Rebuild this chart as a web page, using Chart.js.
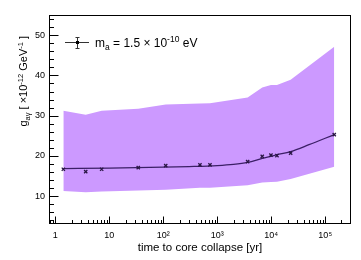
<!DOCTYPE html>
<html><head><meta charset="utf-8">
<script src="https://cdn.jsdelivr.net/npm/chart.js@4"></script>
<style>html,body{margin:0;padding:0;background:#fff}canvas{display:block}</style>
</head><body>
<canvas id="c" width="361" height="260"></canvas>
<script>
// ---- data ----
const times      = [1.41, 3.66, 7.23, 34.4, 111, 478, 733, 3655, 6810, 9870, 12760, 22860, 146800];
const gValues    = [16.7, 16.1, 16.7, 17.1, 17.6, 17.8, 17.8, 18.6, 19.9, 20.2, 20.1, 20.7, 25.3];
const bandUpper  = [31.2, 30.2, 31.2, 31.7, 32.8, 33.0, 33.1, 34.5, 37.0, 37.6, 37.6, 38.9, 47.1];
const bandLower  = [11.3, 11.0, 11.2, 11.4, 11.6, 12.1, 12.1, 12.7, 13.4, 13.5, 13.6, 14.3, 17.3];
const fitTimes   = [1.41, 10, 100, 300, 1000, 2000, 3655, 6810, 12760, 22860, 50000, 146800];
const fitValues  = [16.85, 17.0, 17.2, 17.35, 17.6, 17.9, 18.4, 19.4, 20.3, 21.1, 22.8, 25.3];
const yMajorTicks = [10, 20, 30, 40, 50];
const yMinorTicks = [4, 6, 8, 12, 14, 16, 18, 22, 24, 26, 28, 32, 34, 36, 38, 42, 44, 46, 48, 52, 54];
const xMajorTicks = [1, 10, 100, 1000, 10000, 100000];
const xTickLabels = ['1', '10', '10²', '10³', '10⁴', '10⁵'];
const xMinorTicks = [0.8, 0.9, 2,3,4,5,6,7,8,9, 20,30,40,50,60,70,80,90, 200,300,400,500,600,700,800,900,
  2000,3000,4000,5000,6000,7000,8000,9000, 20000,30000,40000,50000,60000,70000,80000,90000, 200000];

const FONT = "'Liberation Sans', Arial, Helvetica, sans-serif";

const pts = (xs, ys) => xs.map((x, i) => ({x, y: ys[i]}));

function richWidth(ctx, parts) {
  let w = 0;
  for (const p of parts) { ctx.font = p.size + 'px ' + FONT; w += ctx.measureText(p.t).width; }
  return w;
}
function drawRich(ctx, parts, x, y) {
  let cx = x;
  for (const p of parts) {
    ctx.font = p.size + 'px ' + FONT;
    ctx.fillText(p.t, cx, y + (p.dy || 0));
    cx += ctx.measureText(p.t).width;
  }
}

const decor = {
  id: 'decor',
  afterDraw(chart) {
    const ctx = chart.ctx, a = chart.chartArea;
    const xs = chart.scales.x, ys = chart.scales.y;
    ctx.save();
    ctx.strokeStyle = '#000'; ctx.lineWidth = 1;
    ctx.strokeRect(Math.round(a.left) + 0.5, Math.round(a.top) + 0.5,
                   Math.round(a.right - a.left) - 1, Math.round(a.bottom - a.top) - 1);
    ctx.beginPath();
    const L = Math.round(a.left) + 0.5, B = Math.round(a.bottom) - 0.5;
    for (const v of yMajorTicks) { const py = Math.round(ys.getPixelForValue(v)) + 0.5; ctx.moveTo(L, py); ctx.lineTo(L + 9, py); }
    for (const v of yMinorTicks) { const py = Math.round(ys.getPixelForValue(v)) + 0.5; ctx.moveTo(L, py); ctx.lineTo(L + 4.5, py); }
    for (const v of xMajorTicks) { const px = Math.round(xs.getPixelForValue(v)) + 0.5; ctx.moveTo(px, B); ctx.lineTo(px, B - 7); }
    for (const v of xMinorTicks) { const px = Math.round(xs.getPixelForValue(v)) + 0.5; ctx.moveTo(px, B); ctx.lineTo(px, B - 3.5); }
    ctx.stroke();

    ctx.fillStyle = '#000';
    ctx.textBaseline = 'alphabetic';
    // x title
    const xt = [{t: 'time to core collapse [yr]', size: 11.5}];
    const xw = richWidth(ctx, xt);
    drawRich(ctx, xt, (a.left + a.right) / 2 - xw / 2, 251);
    // y title (rotated)
    const yt = [
      {t: 'g', size: 11}, {t: 'aγ', size: 7.5, dy: 3},
      {t: ' [ ×10', size: 11}, {t: '-12', size: 7.5, dy: -4.5},
      {t: ' GeV', size: 11}, {t: '-1', size: 7.5, dy: -4.5}, {t: ' ]', size: 11}
    ];
    const yw = richWidth(ctx, yt);
    ctx.save();
    ctx.translate(27, 36 + yw);
    ctx.rotate(-Math.PI / 2);
    drawRich(ctx, yt, 0, 0);
    ctx.restore();

    // legend
    ctx.strokeStyle = '#333';
    ctx.beginPath();
    ctx.moveTo(65, 42.5); ctx.lineTo(89, 42.5);
    ctx.moveTo(77.5, 37); ctx.lineTo(77.5, 49);
    ctx.moveTo(75.5, 37.5); ctx.lineTo(79.5, 37.5);
    ctx.moveTo(75.5, 48.5); ctx.lineTo(79.5, 48.5);
    ctx.stroke();
    ctx.fillStyle = '#000';
    ctx.fillRect(76, 41, 3, 3);
    const lg = [
      {t: 'm', size: 12}, {t: 'a', size: 8.5, dy: 3},
      {t: ' = 1.5 × 10', size: 12}, {t: '-10', size: 8.5, dy: -5}, {t: ' eV', size: 12}
    ];
    drawRich(ctx, lg, 95, 47);
    ctx.restore();
  }
};

new Chart(document.getElementById('c'), {
  type: 'scatter',
  data: {
    datasets: [
      { label: 'points', data: pts(times, gValues), showLine: false, order: 0,
        pointStyle: 'crossRot', pointRadius: 2.3, pointBorderWidth: 1.3,
        pointBorderColor: '#2a1745', pointBackgroundColor: '#2a1745' },
      { label: 'fit', data: pts(fitTimes, fitValues), showLine: true, order: 1,
        borderColor: '#3b1f66', borderWidth: 1.3, pointRadius: 0, tension: 0.4, cubicInterpolationMode: 'monotone' },
      { label: 'upper', data: pts(times, bandUpper), showLine: true, order: 2,
        borderWidth: 0, borderColor: 'rgba(0,0,0,0)', pointRadius: 0, tension: 0,
        backgroundColor: '#cc99ff', fill: '+1' },
      { label: 'lower', data: pts(times, bandLower), showLine: true, order: 3,
        borderWidth: 0, borderColor: 'rgba(0,0,0,0)', pointRadius: 0, tension: 0, fill: false }
    ]
  },
  options: {
    responsive: false, animation: false, devicePixelRatio: 1,
    layout: { padding: { top: 15, right: 10, left: 0, bottom: 0 } },
    plugins: { legend: { display: false }, tooltip: { enabled: false } },
    scales: {
      x: {
        type: 'logarithmic', min: 0.765, max: 3.0e5,
        grid: { display: false, drawTicks: false }, border: { display: false },
        afterFit(s) { s.height = 36; },
        afterBuildTicks(s) { s.ticks = xMajorTicks.map(v => ({value: v})); },
        ticks: { autoSkip: false, maxRotation: 0, padding: 6, color: '#000',
          font: { family: FONT, size: 9 },
          callback(v) { const i = xMajorTicks.indexOf(v); return i >= 0 ? xTickLabels[i] : ''; } }
      },
      y: {
        type: 'linear', min: 3.1, max: 55,
        grid: { display: false, drawTicks: false }, border: { display: false },
        afterFit(s) { s.width = 49; },
        afterBuildTicks(s) { s.ticks = yMajorTicks.map(v => ({value: v})); },
        ticks: { autoSkip: false, padding: 4, color: '#000', font: { family: FONT, size: 9 },
          callback(v) { return String(v); } }
      }
    }
  },
  plugins: [decor]
});
</script>
</body></html>
